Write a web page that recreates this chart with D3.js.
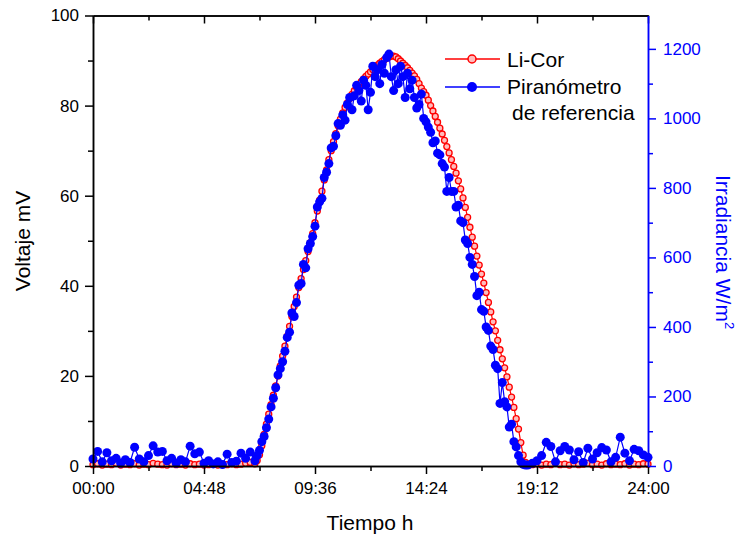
<!DOCTYPE html>
<html lang="es">
<head>
<meta http-equiv="Content-Type" content="text/html; charset=utf-8"/>
<style>
body { margin: 0; background: #fff; }
text { font-family: "Liberation Sans", Arial, sans-serif; }
.axis text { font-size: 17px; }
.axis path, .axis line { stroke-width: 1.5px; }
</style>
</head>
<body>
<svg width="739" height="540"></svg>
<script src="https://cdn.jsdelivr.net/npm/d3@7"></script>
<script>

// sample times (hours)
var hours = [
  0,0.2,0.4,0.6,0.8,1,1.2,1.4,1.6,1.8,2,2.2,2.4,2.6,2.8,3,3.2,3.4,3.6,3.8,
  4,4.2,4.4,4.6,4.8,5,5.2,5.4,5.6,5.8,6,6.2,6.4,6.6,6.8,
  7,7.1,7.2,7.3,7.4,7.5,7.6,7.7,7.8,7.9,
  8,8.1,8.2,8.3,8.4,8.5,8.6,8.7,8.8,8.9,
  9,9.1,9.2,9.3,9.4,9.5,9.6,9.7,9.8,9.9,
  10,10.1,10.2,10.3,10.4,10.5,10.6,10.7,10.8,10.9,
  11,11.1,11.2,11.3,11.4,11.5,11.6,11.7,11.8,11.9,
  12,12.1,12.2,12.3,12.4,12.5,12.6,12.7,12.8,12.9,
  13,13.1,13.2,13.3,13.4,13.5,13.6,13.7,13.8,13.9,
  14,14.1,14.2,14.3,14.4,14.5,14.6,14.7,14.8,14.9,
  15,15.1,15.2,15.3,15.4,15.5,15.6,15.7,15.8,15.9,
  16,16.1,16.2,16.3,16.4,16.5,16.6,16.7,16.8,16.9,
  17,17.1,17.2,17.3,17.4,17.5,17.6,17.7,17.8,17.9,
  18,18.1,18.2,18.3,18.4,18.5,18.6,18.7,
  18.8,19,19.2,19.4,19.6,19.8,20,20.2,20.4,20.6,20.8,21,21.2,21.4,21.6,21.8,
  22,22.2,22.4,22.6,22.8,23,23.2,23.4,23.6,23.8,24
];

// Li-Cor, mV (left axis)
var liCor = [
  0.3,0.5,0.2,0.4,0.3,0.6,0.2,0.4,0.3,0.5,0.2,0.4,0.3,0.6,0.4,0.3,0.2,0.5,0.3,0.4,
  0.2,0.5,0.3,0.4,0.2,0.3,0.5,0.2,0.4,0.3,0.5,0.3,0.4,0.6,0.8,
  0.5,1.2,2.5,4.5,7,9.3,11.5,13.6,15.7,17.8,
  20,22.2,24.4,26.6,28.8,31,33.2,35.4,37.5,39.6,
  41.6,43.6,45.6,47.6,49.6,51.6,54,56.6,59,61,
  63.5,65.7,68,70,72,73.8,75.5,77,78.4,79.6,
  80.6,81.6,82.5,83.3,84,84.7,85.3,85.9,86.5,87,
  87.5,88,88.5,89,89.4,89.8,90.2,90.5,90.8,91,
  91,90.8,90.4,89.9,89.4,88.9,88.4,87.8,87.2,86.6,
  85.8,84.9,83.9,83.1,82.3,81.2,80,78.8,77.6,76.3,
  75,73.7,72.3,70.9,69.5,68,66.5,65,63.3,61.5,
  59.5,57.4,55.2,53,50.8,48.8,46.6,44.6,42.6,40.6,
  38.5,36.3,34.2,32,30,27.9,25.8,23.8,21.8,19.8,
  17.5,15.3,13,10.5,8.2,5.2,2.4,0.8,
  0.4,0.3,0.5,0.2,0.4,0.3,0.6,0.3,0.4,0.2,0.5,0.3,0.4,0.6,0.3,0.4,
  0.2,0.5,0.3,0.4,0.3,0.5,0.2,0.4,0.3,0.5,0.4
];

// Piranometro de referencia, W/m2 (right axis)
var piranometro = [
  20,42,12,38,15,22,8,18,10,54,20,12,30,58,40,42,15,22,8,18,
  12,57,35,40,8,15,6,12,4,34,10,14,37,22,40,
  15,30,45,70,85,110,135,170,195,225,
  262,280,300,330,370,385,440,430,470,520,
  525,580,570,625,640,660,690,745,760,770,
  830,845,870,915,920,950,985,980,1010,995,
  1040,1060,1025,1065,1095,1080,1050,1110,1095,1025,
  1075,1150,1120,1140,1100,1155,1130,1175,1185,1120,
  1080,1140,1100,1150,1120,1060,1130,1085,1110,1060,
  1030,1040,1070,1000,990,975,960,930,935,900,
  895,870,860,790,830,790,790,745,750,705,
  700,650,640,600,580,545,490,500,450,445,
  400,390,345,335,290,280,180,240,185,170,
  112,120,70,55,30,12,5,3,
  3,8,15,30,68,56,12,44,56,46,18,41,10,51,20,38,
  53,46,12,25,83,37,15,48,44,32,25
];

var xTicks = [0, 4.8, 9.6, 14.4, 19.2, 24];
var xTickLabels = ['00:00', '04:48', '09:36', '14:24', '19:12', '24:00'];
var xMinor = [2.4, 7.2, 12, 16.8, 21.6];
var leftTicks = [0, 20, 40, 60, 80, 100];
var leftMinor = [10, 30, 50, 70, 90];
var rightTicks = [0, 200, 400, 600, 800, 1000, 1200];
var rightMinor = [100, 300, 500, 700, 900, 1100];

var svg = d3.select('svg');
var x0 = 93, x1 = 648, y0 = 466, y1 = 15.5;
var blue = '#0000ff', red = '#ff0000';

var x = d3.scaleLinear().domain([0, 24]).range([x0, x1]);
var yL = d3.scaleLinear().domain([0, 100]).range([y0, y1]);
var yR = d3.scaleLinear().domain([0, 1296]).range([y0, y1]);

var data = hours.map(function(h, i) {
  return { h: h, mv: liCor[i], w: piranometro[i] };
});

// series
var redLine = d3.line().x(function(d) { return x(d.h) }).y(function(d) { return yL(d.mv) });
var blueLine = d3.line().x(function(d) { return x(d.h) }).y(function(d) { return yR(d.w) });

svg.append('path').datum(data).attr('d', redLine)
  .attr('fill', 'none').attr('stroke', red).attr('stroke-width', 1.2);
svg.append('g').selectAll('circle').data(data).enter().append('circle')
  .attr('cx', function(d) { return x(d.h) })
  .attr('cy', function(d) { return yL(d.mv) })
  .attr('r', 3)
  .attr('fill', '#ffbcbc').attr('stroke', red).attr('stroke-width', 1.3);

svg.append('path').datum(data).attr('d', blueLine)
  .attr('fill', 'none').attr('stroke', blue).attr('stroke-width', 1.2);
svg.append('g').selectAll('circle').data(data).enter().append('circle')
  .attr('cx', function(d) { return x(d.h) })
  .attr('cy', function(d) { return yR(d.w) })
  .attr('r', 4.5)
  .attr('fill', blue);

// axes
function addAxis(axis, tx, ty, color) {
  var g = svg.append('g').attr('class', 'axis')
    .attr('transform', 'translate(' + tx + ',' + ty + ')')
    .call(axis);
  g.selectAll('path, line').attr('stroke', color);
  g.selectAll('text').attr('fill', color);
  return g;
}

addAxis(d3.axisBottom(x).tickValues(xMinor).tickSize(5).tickFormat('').tickSizeOuter(0), 0, y0, '#000');
addAxis(d3.axisBottom(x).tickValues(xTicks).tickSize(8).tickPadding(8).tickSizeOuter(0)
  .tickFormat(function(d, i) { return xTickLabels[i] }), 0, y0, '#000');
addAxis(d3.axisBottom(x).tickValues(xMinor).tickSize(5).tickFormat('').tickSizeOuter(0), 0, y1, '#000');
addAxis(d3.axisBottom(x).tickValues(xTicks).tickSize(8).tickFormat('').tickSizeOuter(0), 0, y1, '#000');

addAxis(d3.axisLeft(yL).tickValues(leftMinor).tickSize(5).tickFormat('').tickSizeOuter(0), x0, 0, '#000');
addAxis(d3.axisLeft(yL).tickValues(leftTicks).tickSize(8).tickPadding(6).tickSizeOuter(0), x0, 0, '#000');

addAxis(d3.axisRight(yR).tickValues(rightMinor).tickSize(5).tickFormat('').tickSizeOuter(0), x1, 0, blue);
addAxis(d3.axisRight(yR).tickValues(rightTicks).tickSize(8).tickPadding(7).tickSizeOuter(0)
  .tickFormat(d3.format('d')), x1, 0, blue);

// axis titles
svg.append('text').attr('transform', 'translate(30,241) rotate(-90)')
  .attr('text-anchor', 'middle').attr('font-size', 21).text('Voltaje mV');
svg.append('text').attr('x', 370).attr('y', 530)
  .attr('text-anchor', 'middle').attr('font-size', 21).text('Tiempo h');
var rt = svg.append('text').attr('transform', 'translate(716,252) rotate(90)')
  .attr('text-anchor', 'middle').attr('font-size', 21).attr('fill', blue);
rt.append('tspan').text('Irradiancia W/m');
rt.append('tspan').attr('font-size', 13).attr('dy', -9).text('2');

// legend
var lg = svg.append('g');
lg.append('line').attr('x1', 445).attr('x2', 500).attr('y1', 59).attr('y2', 59)
  .attr('stroke', red).attr('stroke-width', 1.3);
lg.append('circle').attr('cx', 472).attr('cy', 59).attr('r', 4)
  .attr('fill', '#ffbcbc').attr('stroke', red).attr('stroke-width', 1.5);
lg.append('line').attr('x1', 445).attr('x2', 500).attr('y1', 87).attr('y2', 87)
  .attr('stroke', blue).attr('stroke-width', 1.3);
lg.append('circle').attr('cx', 472).attr('cy', 87).attr('r', 5).attr('fill', blue);
lg.append('text').attr('x', 507).attr('y', 66.5).attr('font-size', 21).text('Li-Cor');
lg.append('text').attr('x', 507).attr('y', 94).attr('font-size', 21).text('Piranómetro');
lg.append('text').attr('x', 512).attr('y', 120).attr('font-size', 21).text('de referencia');

</script>
</body>
</html>
